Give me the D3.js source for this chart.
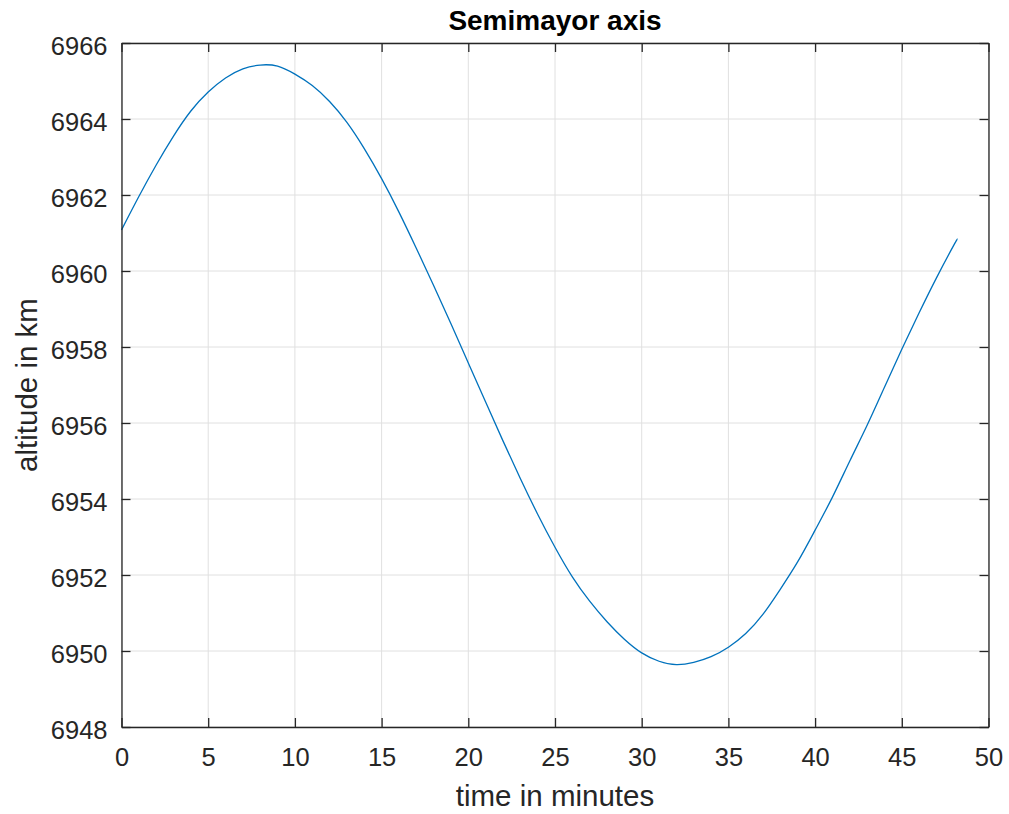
<!DOCTYPE html>
<html>
<head>
<meta charset="utf-8">
<script src="https://cdn.jsdelivr.net/npm/d3@7"></script>
<style>
  html, body { margin: 0; padding: 0; background: #ffffff; }
  svg { display: block; }
  text { font-family: "Liberation Sans", Arial, Helvetica, sans-serif; }
</style>
</head>
<body>
<svg id="chart" width="1009" height="814"></svg>
<script>
// Semimajor axis over one orbit (time in minutes, altitude in km)
const timeMinutes = [0, 1, 2, 3, 4, 5, 6, 7, 8, 9, 10, 11, 12, 13, 14, 15, 16, 17, 18, 19,
  20, 21, 22, 23, 24, 25, 26, 27, 28, 29, 30, 31, 32, 33, 34, 35, 36, 37, 38, 39,
  40, 41, 42, 43, 44, 45, 46, 47, 48, 48.2];
const altitudeKm = [6961.08, 6961.96, 6962.79, 6963.55, 6964.21, 6964.71, 6965.08, 6965.32, 6965.42, 6965.39,
  6965.18, 6964.88, 6964.46, 6963.91, 6963.22, 6962.43, 6961.55, 6960.60, 6959.62, 6958.61,
  6957.58, 6956.55, 6955.53, 6954.54, 6953.60, 6952.73, 6951.95, 6951.31, 6950.77, 6950.31,
  6949.95, 6949.73, 6949.64, 6949.70, 6949.85, 6950.10, 6950.46, 6950.97, 6951.63, 6952.35,
  6953.18, 6954.05, 6955.00, 6955.94, 6956.94, 6957.94, 6958.90, 6959.82, 6960.68, 6960.83];
const xTicks = [0, 5, 10, 15, 20, 25, 30, 35, 40, 45, 50];
const yTicks = [6948, 6950, 6952, 6954, 6956, 6958, 6960, 6962, 6964, 6966];

const svg = d3.select("#chart");
const box = { left: 121.5, right: 988.5, top: 43, bottom: 727 };

const x = d3.scaleLinear().domain([0, 50]).range([box.left, box.right]);
const y = d3.scaleLinear().domain([6948, 6966]).range([box.bottom, box.top]);

const axisColor = "#262626";
const gridColor = "#e0e0e0";
const tickLen = 9;
const fmt = d3.format("d");

// grid
const grid = svg.append("g");
grid.selectAll("line.gx").data(xTicks).join("line")
  .attr("x1", d => x(d)).attr("x2", d => x(d))
  .attr("y1", box.top).attr("y2", box.bottom)
  .attr("stroke", gridColor).attr("stroke-width", 1);
grid.selectAll("line.gy").data(yTicks).join("line")
  .attr("y1", d => y(d)).attr("y2", d => y(d))
  .attr("x1", box.left).attr("x2", box.right)
  .attr("stroke", gridColor).attr("stroke-width", 1);

// data line
const line = d3.line()
  .x((d, i) => x(timeMinutes[i]))
  .y(d => y(d))
  .curve(d3.curveNatural);
svg.append("path")
  .datum(altitudeKm)
  .attr("d", line)
  .attr("fill", "none")
  .attr("stroke", "#0072BD")
  .attr("stroke-width", 1.3);

// axes with inward ticks on all four sides
function styleAxis(g) {
  g.select(".domain").attr("stroke", axisColor).attr("stroke-width", 1.3);
  g.selectAll(".tick line").attr("stroke", axisColor).attr("stroke-width", 1.3);
  g.selectAll(".tick text").attr("fill", axisColor)
    .style("font-size", "25.5px");
}

svg.append("g")
  .attr("transform", `translate(0,${box.bottom})`)
  .call(d3.axisBottom(x).tickValues(xTicks).tickFormat(fmt).tickSizeInner(-tickLen).tickSizeOuter(0).tickPadding(21))
  .call(styleAxis);
svg.append("g")
  .attr("transform", `translate(0,${box.top})`)
  .call(d3.axisTop(x).tickValues(xTicks).tickSizeInner(-tickLen).tickSizeOuter(0).tickFormat(""))
  .call(styleAxis);
svg.append("g")
  .attr("transform", `translate(${box.left},0)`)
  .call(d3.axisLeft(y).tickValues(yTicks).tickFormat(fmt).tickSizeInner(-tickLen).tickSizeOuter(0).tickPadding(14))
  .call(styleAxis)
  .selectAll(".tick text").attr("dy", "0.46em");
svg.append("g")
  .attr("transform", `translate(${box.right},0)`)
  .call(d3.axisRight(y).tickValues(yTicks).tickSizeInner(-tickLen).tickSizeOuter(0).tickFormat(""))
  .call(styleAxis);

// title and axis labels
svg.append("text")
  .attr("x", (box.left + box.right) / 2).attr("y", 30)
  .attr("text-anchor", "middle")
  .attr("fill", "#000000")
  .style("font-size", "28px").style("font-weight", "bold")
  .text("Semimayor axis");

svg.append("text")
  .attr("x", (box.left + box.right) / 2).attr("y", 806)
  .attr("text-anchor", "middle")
  .attr("fill", axisColor)
  .style("font-size", "29.5px")
  .text("time in minutes");

svg.append("text")
  .attr("transform", `translate(37,${(box.top + box.bottom) / 2}) rotate(-90)`)
  .attr("text-anchor", "middle")
  .attr("fill", axisColor)
  .style("font-size", "29.5px")
  .text("altitude in km");
</script>
</body>
</html>
